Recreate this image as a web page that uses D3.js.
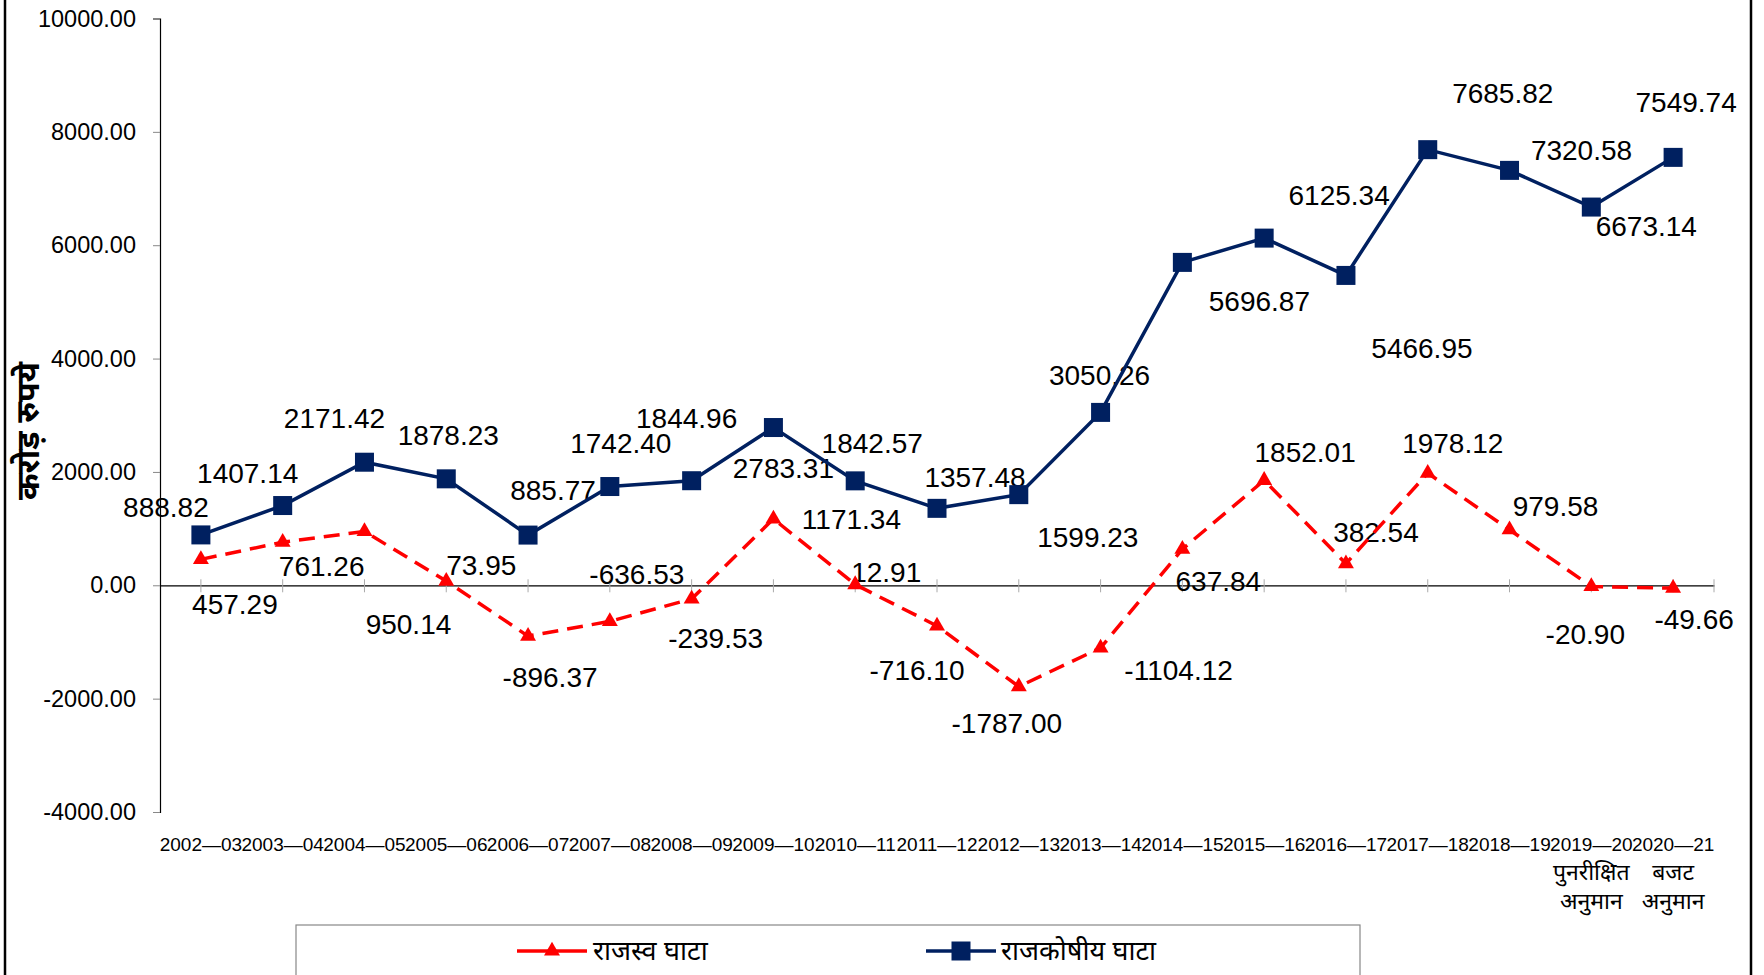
<!DOCTYPE html>
<html>
<head>
<meta charset="utf-8">
<script src="https://cdn.jsdelivr.net/npm/d3@7"></script>
<style>
  html, body { margin: 0; padding: 0; background: #fff; }
  svg { display: block; }
  text { font-family: "Liberation Sans", Arial, "Noto Sans", sans-serif; }
</style>
</head>
<body>
<svg id="chart" width="1764" height="975"></svg>
<script>
// ---------------- data ----------------
const categories = ["2002—03","2003—04","2004—05","2005—06","2006—07","2007—08","2008—09","2009—10","2010—11","2011—12","2012—13","2013—14","2014—15","2015—16","2016—17","2017—18","2018—19","2019—20","2020—21"];
const categoryNotes = { "2019—20": ["पुनरीक्षित", "अनुमान"], "2020—21": ["बजट", "अनुमान"] };
const revenueDeficit = [457.29, 761.26, 950.14, 73.95, -896.37, -636.53, -239.53, 1171.34, 12.91, -716.10, -1787.00, -1104.12, 637.84, 1852.01, 382.54, 1978.12, 979.58, -20.90, -49.66];
const fiscalDeficit = [888.82, 1407.14, 2171.42, 1878.23, 885.77, 1742.40, 1844.96, 2783.31, 1842.57, 1357.48, 1599.23, 3050.26, 5696.87, 6125.34, 5466.95, 7685.82, 7320.58, 6673.14, 7549.74];
const yTicks = [-4000, -2000, 0, 2000, 4000, 6000, 8000, 10000];
const seriesNames = ["राजस्व घाटा", "राजकोषीय घाटा"];
const yTitle = "करोड़ रुपये";

// label placement offsets (px, relative to each point) as laid out in the original
const fiscalLabelOffsets = [[-35,-27],[-35,-32],[-30,-44],[2,-43],[25,-45],[11,-43],[-5,-62],[10,41],[17,-37],[38,-31],[69,43],[-1,-37],[77,39],[75,-43],[76,73],[75,-56],[72,-20],[55,19],[13,-55]];
const revenueLabelOffsets = [[34,45],[39,24],[44,93],[35,-16],[22,41],[27,-47],[24,40],[78,1],[31,-12],[-20,45],[-12,37],[78,23],[36,32],[41,-28],[30,-31],[25,-30],[46,-23],[-6,48],[21,31]];

// ---------------- layout ----------------
const svg = d3.select("#chart");
const navy = "#002060", red = "#FF0000";
const plotLeft = 160, plotRight = 1714, plotTop = 18.5, plotBottom = 812;
const fmt = v => d3.format(".2f")(v).replace("\u2212", "-");

const x = d3.scaleBand().domain(categories).range([plotLeft, plotRight]);
const cx = c => x(c) + x.bandwidth() / 2;
const y = d3.scaleLinear().domain([-4000, 10000]).range([plotBottom, plotTop]);

// frame lines
svg.append("line").attr("x1", 5).attr("x2", 5).attr("y1", 0).attr("y2", 975).attr("stroke", "#000").attr("stroke-width", 2.5);
svg.append("line").attr("x1", 1751).attr("x2", 1751).attr("y1", 0).attr("y2", 975).attr("stroke", "#000").attr("stroke-width", 2.5);

// y axis
const yAxis = svg.append("g").attr("transform", `translate(${plotLeft},0)`)
  .call(d3.axisLeft(y).tickValues(yTicks).tickFormat(fmt).tickSize(7).tickPadding(17));
yAxis.select(".domain").attr("stroke", "#000").attr("stroke-width", 1.2);
yAxis.selectAll(".tick line").attr("stroke", "#888");
yAxis.selectAll(".tick text").attr("font-size", 23.5).attr("fill", "#000")
  .attr("font-family", "'Liberation Sans', Arial, sans-serif");

// x axis at zero
const xAxis = svg.append("g").attr("transform", `translate(0,${y(0)})`)
  .call(d3.axisBottom(x).tickSizeOuter(0).tickFormat(""));
xAxis.select(".domain").attr("stroke", "#000").attr("stroke-width", 1.2);
xAxis.selectAll(".tick line").attr("stroke", "#aaa").attr("y1", -6).attr("y2", 7);
xAxis.append("line").attr("x1", plotRight).attr("x2", plotRight).attr("y1", -6).attr("y2", 7).attr("stroke", "#aaa");

// category labels
const catG = svg.append("g");
categories.forEach(c => {
  catG.append("text").attr("x", cx(c)).attr("y", 851).attr("text-anchor", "middle")
    .attr("font-size", 19).attr("fill", "#000").text(c);
  if (categoryNotes[c]) {
    categoryNotes[c].forEach((t, k) => {
      catG.append("text").attr("x", cx(c)).attr("y", 880 + k * 29).attr("text-anchor", "middle")
        .attr("font-size", 23).attr("fill", "#000").text(t);
    });
  }
});

// y title
svg.append("text").attr("transform", `translate(39,431) rotate(-90)`).attr("text-anchor", "middle")
  .attr("font-size", 32).attr("font-weight", "bold").attr("fill", "#000").text(yTitle);

// data labels (drawn beneath the series)
const lblG = svg.append("g");
function addLabels(values, offsets) {
  values.forEach((v, i) => {
    const c = categories[i];
    lblG.append("text").attr("x", cx(c) + offsets[i][0]).attr("y", y(v) + offsets[i][1])
      .attr("text-anchor", "middle").attr("dominant-baseline", "central")
      .attr("font-size", 28).attr("fill", "#000").text(fmt(v));
  });
}
addLabels(fiscalDeficit, fiscalLabelOffsets);
addLabels(revenueDeficit, revenueLabelOffsets);

// lines
const line = d3.line().x((d, i) => cx(categories[i])).y(d => y(d));
svg.append("path").datum(revenueDeficit).attr("d", line).attr("fill", "none")
  .attr("stroke", red).attr("stroke-width", 3.5).attr("stroke-dasharray", "16,9");
svg.append("path").datum(fiscalDeficit).attr("d", line).attr("fill", "none")
  .attr("stroke", navy).attr("stroke-width", 3.5);

// markers
const tri = d3.symbol().type(d3.symbolTriangle).size(110);
svg.append("g").selectAll("path").data(revenueDeficit).join("path")
  .attr("transform", (d, i) => `translate(${cx(categories[i])},${y(d)})`)
  .attr("d", tri).attr("fill", red);
const sq = 19;
svg.append("g").selectAll("rect").data(fiscalDeficit).join("rect")
  .attr("x", (d, i) => cx(categories[i]) - sq / 2).attr("y", d => y(d) - sq / 2)
  .attr("width", sq).attr("height", sq).attr("fill", navy);

// legend
svg.append("rect").attr("x", 296).attr("y", 925).attr("width", 1064).attr("height", 70)
  .attr("fill", "none").attr("stroke", "#888").attr("stroke-width", 1.2);
const ly = 951;
svg.append("line").attr("x1", 517).attr("x2", 587).attr("y1", ly).attr("y2", ly).attr("stroke", red).attr("stroke-width", 3.5);
svg.append("path").attr("transform", `translate(552,${ly})`).attr("d", tri).attr("fill", red);
svg.append("text").attr("x", 593).attr("y", ly).attr("dominant-baseline", "central").attr("font-size", 27).attr("fill", "#000").text(seriesNames[0]);
svg.append("line").attr("x1", 926).attr("x2", 996).attr("y1", ly).attr("y2", ly).attr("stroke", navy).attr("stroke-width", 3.5);
svg.append("rect").attr("x", 961 - sq / 2).attr("y", ly - sq / 2).attr("width", sq).attr("height", sq).attr("fill", navy);
svg.append("text").attr("x", 1001).attr("y", ly).attr("dominant-baseline", "central").attr("font-size", 27).attr("fill", "#000").text(seriesNames[1]);
</script>
</body>
</html>
